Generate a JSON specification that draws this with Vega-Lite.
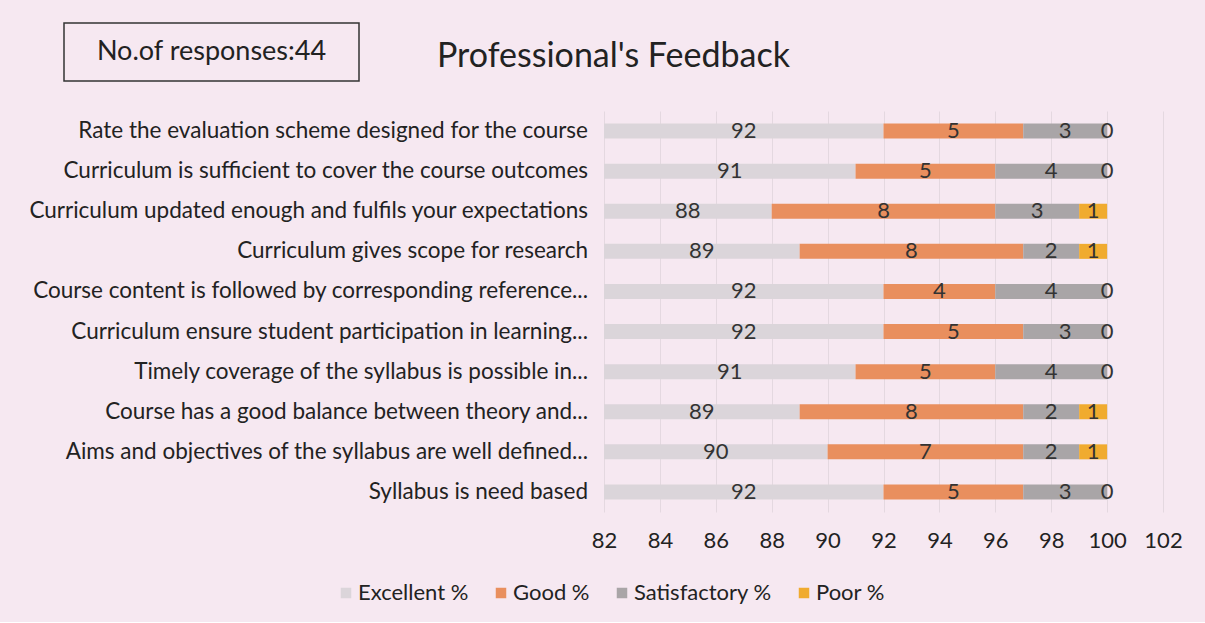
{
  "$schema": "https://vega.github.io/schema/vega-lite/v6.json",
  "background": "#f6e8f1",
  "padding": {"left": 25, "top": 22, "right": 30, "bottom": 18},
  "config": {"font": "Lato", "view": {"stroke": null}},
  "datasets": {
    "feedback": [
      {"q": "Rate the evaluation scheme designed for the course", "cat": "Excellent %", "v": 92},
      {"q": "Rate the evaluation scheme designed for the course", "cat": "Good %", "v": 5},
      {"q": "Rate the evaluation scheme designed for the course", "cat": "Satisfactory %", "v": 3},
      {"q": "Rate the evaluation scheme designed for the course", "cat": "Poor %", "v": 0},
      {"q": "Curriculum is sufficient to cover the course outcomes", "cat": "Excellent %", "v": 91},
      {"q": "Curriculum is sufficient to cover the course outcomes", "cat": "Good %", "v": 5},
      {"q": "Curriculum is sufficient to cover the course outcomes", "cat": "Satisfactory %", "v": 4},
      {"q": "Curriculum is sufficient to cover the course outcomes", "cat": "Poor %", "v": 0},
      {"q": "Curriculum updated enough and fulfils your expectations", "cat": "Excellent %", "v": 88},
      {"q": "Curriculum updated enough and fulfils your expectations", "cat": "Good %", "v": 8},
      {"q": "Curriculum updated enough and fulfils your expectations", "cat": "Satisfactory %", "v": 3},
      {"q": "Curriculum updated enough and fulfils your expectations", "cat": "Poor %", "v": 1},
      {"q": "Curriculum gives scope for research", "cat": "Excellent %", "v": 89},
      {"q": "Curriculum gives scope for research", "cat": "Good %", "v": 8},
      {"q": "Curriculum gives scope for research", "cat": "Satisfactory %", "v": 2},
      {"q": "Curriculum gives scope for research", "cat": "Poor %", "v": 1},
      {"q": "Course content is followed by corresponding reference...", "cat": "Excellent %", "v": 92},
      {"q": "Course content is followed by corresponding reference...", "cat": "Good %", "v": 4},
      {"q": "Course content is followed by corresponding reference...", "cat": "Satisfactory %", "v": 4},
      {"q": "Course content is followed by corresponding reference...", "cat": "Poor %", "v": 0},
      {"q": "Curriculum ensure student participation in learning...", "cat": "Excellent %", "v": 92},
      {"q": "Curriculum ensure student participation in learning...", "cat": "Good %", "v": 5},
      {"q": "Curriculum ensure student participation in learning...", "cat": "Satisfactory %", "v": 3},
      {"q": "Curriculum ensure student participation in learning...", "cat": "Poor %", "v": 0},
      {"q": "Timely coverage of the syllabus is possible in...", "cat": "Excellent %", "v": 91},
      {"q": "Timely coverage of the syllabus is possible in...", "cat": "Good %", "v": 5},
      {"q": "Timely coverage of the syllabus is possible in...", "cat": "Satisfactory %", "v": 4},
      {"q": "Timely coverage of the syllabus is possible in...", "cat": "Poor %", "v": 0},
      {"q": "Course  has a good balance between theory and...", "cat": "Excellent %", "v": 89},
      {"q": "Course  has a good balance between theory and...", "cat": "Good %", "v": 8},
      {"q": "Course  has a good balance between theory and...", "cat": "Satisfactory %", "v": 2},
      {"q": "Course  has a good balance between theory and...", "cat": "Poor %", "v": 1},
      {"q": "Aims and objectives of the syllabus are well defined...", "cat": "Excellent %", "v": 90},
      {"q": "Aims and objectives of the syllabus are well defined...", "cat": "Good %", "v": 7},
      {"q": "Aims and objectives of the syllabus are well defined...", "cat": "Satisfactory %", "v": 2},
      {"q": "Aims and objectives of the syllabus are well defined...", "cat": "Poor %", "v": 1},
      {"q": "Syllabus is need based", "cat": "Excellent %", "v": 92},
      {"q": "Syllabus is need based", "cat": "Good %", "v": 5},
      {"q": "Syllabus is need based", "cat": "Satisfactory %", "v": 3},
      {"q": "Syllabus is need based", "cat": "Poor %", "v": 0}
    ]
  },
  "spacing": 29,
  "vconcat": [
    {
      "hconcat": [
        {
          "width": 38, "height": 58,
          "data": {"values": [{"t": ""}]},
          "mark": {"type": "text", "fontSize": 10},
          "encoding": {"text": {"field": "t"}}
        },
        {
          "width": 295, "height": 58,
          "view": {"stroke": "#333333", "strokeWidth": 1.5},
          "data": {"values": [{"t": "No.of responses:44"}]},
          "mark": {"type": "text", "fontSize": 27, "color": "#222222"},
          "encoding": {"text": {"field": "t"}}
        },
        {
          "width": 507, "height": 58,
          "data": {"values": [{"t": "Professional's Feedback"}]},
          "mark": {"type": "text", "fontSize": 34, "color": "#222222", "dy": 5},
          "encoding": {"text": {"field": "t"}}
        }
      ],
      "spacing": 0
    },
    {
      "spacing": 3,
      "hconcat": [
        {
          "width": 563, "height": 401,
          "data": {"name": "feedback"},
          "transform": [{"filter": "datum.cat === 'Excellent %'"}],
          "mark": {"type": "text", "align": "right", "baseline": "middle", "fontSize": 22.5, "color": "#222222"},
          "encoding": {
            "y": {"field": "q", "type": "nominal", "sort": null, "axis": null, "scale": {"paddingInner": 0.626, "paddingOuter": 0.313}},
            "x": {"value": "width"},
            "text": {"field": "q"}
          }
        },
        {
          "width": 559, "height": 401,
          "data": {"name": "feedback"},
          "transform": [
            {"calculate": "indexof(['Excellent %','Good %','Satisfactory %','Poor %'], datum.cat)", "as": "ord"},
            {"stack": "v", "groupby": ["q"], "sort": [{"field": "ord", "order": "ascending"}], "as": ["v0", "v1"]},
            {"calculate": "(max(datum.v0, 82) + datum.v1) / 2", "as": "mid"}
          ],
          "encoding": {
            "y": {
              "field": "q", "type": "nominal", "sort": null,
              "scale": {"paddingInner": 0.626, "paddingOuter": 0.313},
              "axis": null
            }
          },
          "layer": [
            {
              "mark": {"type": "bar", "clip": true},
              "encoding": {
                "x": {
                  "field": "v0", "type": "quantitative",
                  "scale": {"domain": [82, 102], "nice": false, "zero": false},
                  "axis": {"title": null, "values": [82, 84, 86, 88, 90, 92, 94, 96, 98, 100, 102], "labelOverlap": false, "labelFlush": false, "grid": true, "gridColor": "#e4d8e0", "domain": false, "ticks": false, "labelFontSize": 22, "labelColor": "#222222", "labelPadding": 18}
                },
                "x2": {"field": "v1"},
                "color": {
                  "field": "cat", "type": "nominal",
                  "scale": {"domain": ["Excellent %", "Good %", "Satisfactory %", "Poor %"], "range": ["#dbd5da", "#e98f5e", "#a9a5a7", "#f0ab2f"]},
                  "legend": {"title": null, "orient": "none", "legendX": 310, "legendY": 559, "direction": "horizontal", "symbolType": "square", "symbolSize": 110, "symbolStrokeWidth": 0, "labelFontSize": 22, "labelColor": "#222222", "columnPadding": 21, "labelOffset": 1}
                },
                "order": {"field": "ord"}
              }
            },
            {
              "mark": {"type": "text", "fontSize": 22, "color": "#333333"},
              "encoding": {
                "x": {"field": "mid", "type": "quantitative"},
                "text": {"field": "v", "type": "quantitative"}
              }
            }
          ]
        }
      ]
    }
  ]
}
